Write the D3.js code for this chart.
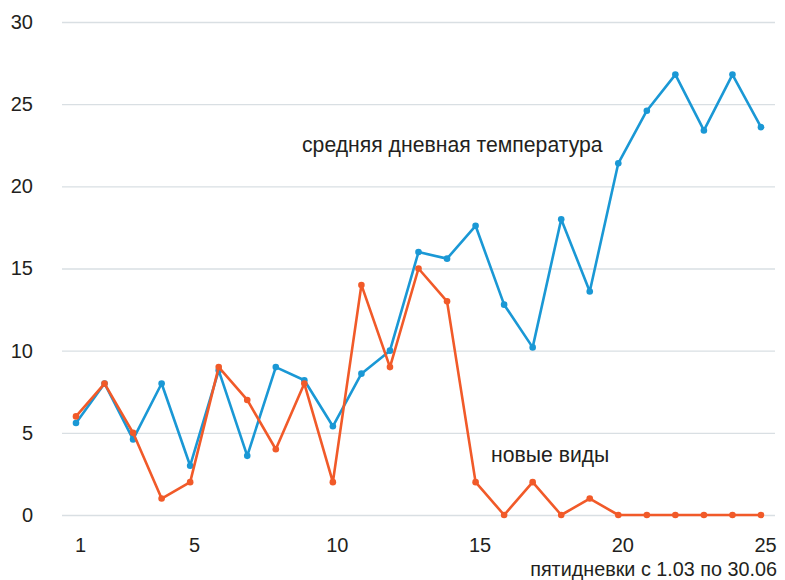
<!DOCTYPE html>
<html>
<head>
<meta charset="utf-8">
<script src="https://cdn.jsdelivr.net/npm/d3@7"></script>
<style>
  body { margin: 0; background: #fff; }
  text { font-family: "Liberation Sans", Arial, sans-serif; fill: #231f20; }
</style>
</head>
<body>
<svg id="chart"></svg>
<script>
let W = 785, H = 580

// пятидневки 1..25
let periods = d3.range(1, 26)
let temperature = [5.6, 8, 4.6, 8, 3, 8.8, 3.6, 9, 8.2, 5.4, 8.6, 10, 16, 15.6, 17.6,
                   12.8, 10.2, 18, 13.6, 21.4, 24.6, 26.8, 23.4, 26.8, 23.6]
let newSpecies = [6, 8, 5, 1, 2, 9, 7, 4, 8, 2, 14, 9, 15, 13, 2,
                  0, 2, 0, 1, 0, 0, 0, 0, 0, 0]
let xTicks = [1, 5, 10, 15, 20, 25]
let yTicks = [0, 5, 10, 15, 20, 25, 30]

let svg = d3.select('#chart').attr('width', W).attr('height', H)

let gridLeft = 62, gridRight = 775
let x = d3.scaleLinear().domain([1, 25]).range([76, 761])
let y = d3.scaleLinear().domain([0, 30]).range([515, 22])

//y axis + grid
let yAxis = svg.append('g')
  .attr('transform', `translate(${gridLeft},0)`)
  .call(d3.axisLeft(y).tickValues(yTicks).tickSize(-(gridRight - gridLeft)).tickPadding(29))
yAxis.select('.domain').remove()
yAxis.selectAll('line').attr('stroke', '#d9dfe3').attr('stroke-width', 1.3)
yAxis.selectAll('text').attr('font-size', 20).attr('fill', '#231f20')

//x axis
let xAxis = svg.append('g')
  .attr('transform', `translate(4,515)`)
  .call(d3.axisBottom(x).tickValues(xTicks).tickSize(0).tickPadding(23))
xAxis.select('.domain').remove()
xAxis.selectAll('text').attr('font-size', 20).attr('fill', '#231f20')

let series = [
  {values: temperature, color: '#1a98d5'},
  {values: newSpecies, color: '#f15a29'},
]

let line = d3.line().x((d, i) => x(periods[i])).y(d => y(d))

series.forEach(s => {
  svg.append('path')
    .datum(s.values)
    .attr('d', line)
    .attr('fill', 'none')
    .attr('stroke', s.color)
    .attr('stroke-width', 2.6)
    .attr('stroke-linejoin', 'round')
  svg.append('g').selectAll('circle')
    .data(s.values)
    .enter()
    .append('circle')
    .attr('cx', (d, i) => x(periods[i]))
    .attr('cy', d => y(d))
    .attr('r', 3.3)
    .attr('fill', s.color)
})

//labels
svg.append('text').text('средняя дневная температура')
  .attr('x', 302).attr('y', 152).attr('font-size', 21.2)
svg.append('text').text('новые виды')
  .attr('x', 491).attr('y', 462).attr('font-size', 21.2)
svg.append('text').text('пятидневки с 1.03 по 30.06')
  .attr('x', 777).attr('y', 576).attr('font-size', 19.8).attr('text-anchor', 'end')
</script>
</body>
</html>
